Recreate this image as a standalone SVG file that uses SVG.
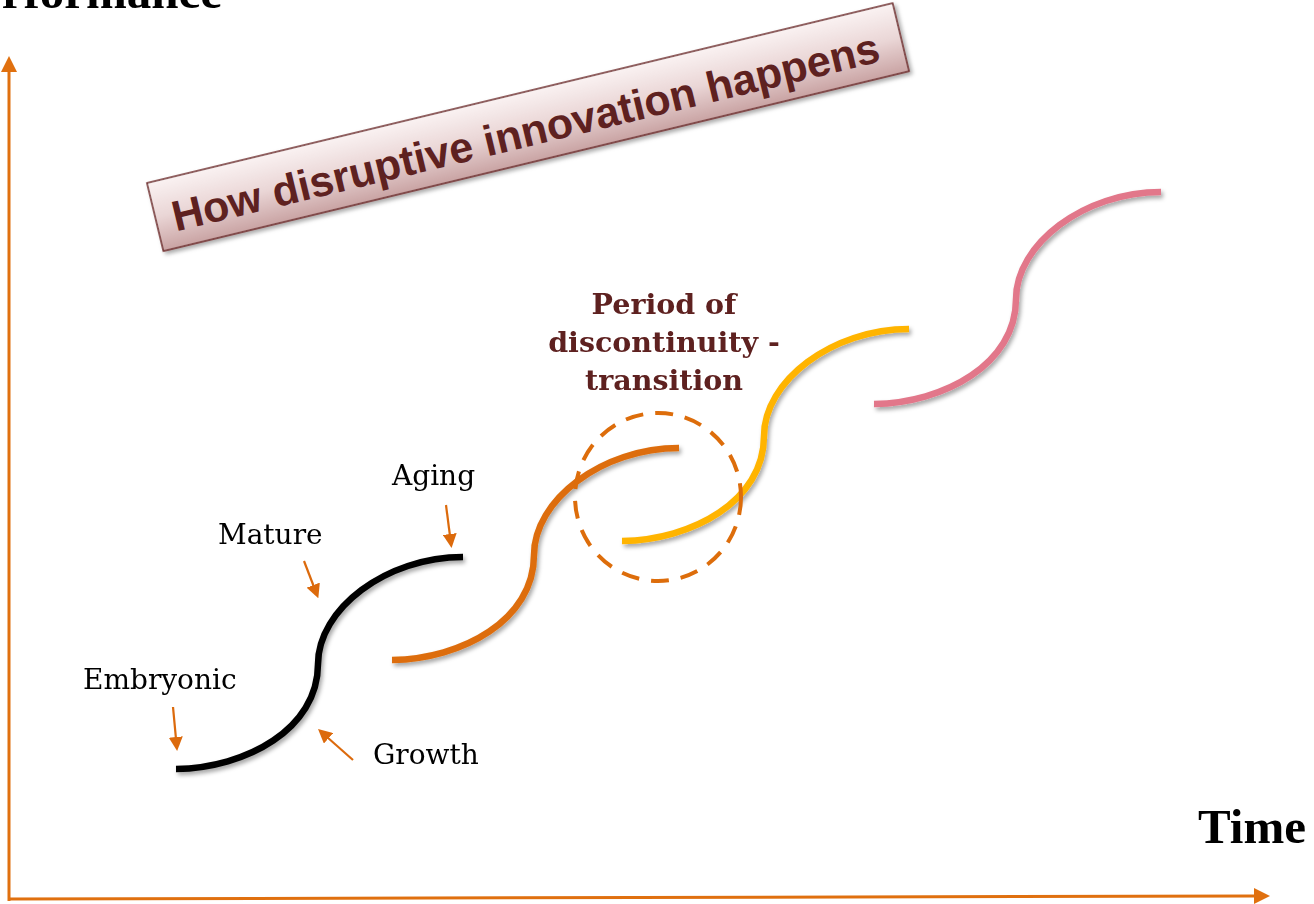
<svg xmlns="http://www.w3.org/2000/svg" width="1314" height="904" viewBox="0 0 1314 904">
<style>
.axis{stroke:#e0700f;stroke-width:3;fill:none}
.curve{fill:none;stroke-width:6.5;stroke-linecap:butt}
.ptr{stroke:#dc6a0c;stroke-width:2.2;fill:none}
.lbl{font-family:"DejaVu Serif","Liberation Serif",serif;font-size:28px;fill:#000}
.axlbl{font-family:"Liberation Serif","Times New Roman",serif;font-weight:bold;font-size:49px;fill:#000}
.period{font-family:"DejaVu Serif","Liberation Serif",serif;font-weight:bold;font-size:28.5px;fill:#5e2120;text-anchor:middle}
.title{font-family:"Liberation Sans",Arial,sans-serif;font-weight:bold;font-size:43px;fill:#5e2120;text-anchor:middle}
</style>
<defs>
<marker id="axhead" viewBox="0 0 16 16" refX="2" refY="8" markerWidth="16" markerHeight="16" markerUnits="userSpaceOnUse" orient="auto">
<path d="M0,0 L16,8 L0,16 Z" fill="#e0700f"/>
</marker>
<marker id="ptrhead" viewBox="0 0 14 14" refX="2" refY="7" markerWidth="14" markerHeight="14" markerUnits="userSpaceOnUse" orient="auto">
<path d="M0,0 L14,7 L0,14 Z" fill="#dc6a0c"/>
</marker>
<filter id="shadow" x="-10%" y="-10%" width="130%" height="130%">
<feDropShadow dx="2" dy="3" stdDeviation="2" flood-color="#000" flood-opacity="0.35"/>
</filter>
<linearGradient id="bannerGrad" x1="0" y1="0" x2="0" y2="1">
<stop offset="0" stop-color="#faf2f2"/>
<stop offset="0.5" stop-color="#ead6d6"/>
<stop offset="1" stop-color="#c9a3a3"/>
</linearGradient>
<path id="scurve" d="M0,0 C70,-1 142,-40 142,-105 C142,-160 210,-212 287,-212"/>
</defs>

<g id="axes">
<line class="axis" x1="9" y1="901" x2="9" y2="70" marker-end="url(#axhead)"/>
<line class="axis" x1="10" y1="899" x2="1256" y2="896" marker-end="url(#axhead)"/>
<text class="axlbl" x="-50" y="8">Performance</text>
<text class="axlbl" x="1198" y="843">Time</text>
</g>

<g id="banner" transform="translate(147,183) rotate(-13.56)">
<rect x="0" y="0" width="767" height="70" fill="url(#bannerGrad)" stroke="#6b2a2a" stroke-width="1.5" filter="url(#shadow)"/>
<text class="title" x="380" y="54">How disruptive innovation happens</text>
</g>

<g id="curves" filter="url(#shadow)">
<use href="#scurve" class="curve" stroke="#000000" transform="translate(176,769)"/>
<use href="#scurve" class="curve" stroke="#dd6d0b" transform="translate(392,660)"/>
<use href="#scurve" class="curve" stroke="#ffb405" transform="translate(622,541)"/>
<use href="#scurve" class="curve" stroke="#e2778a" transform="translate(874,404)"/>
</g>

<g id="transition">
<ellipse cx="658" cy="497" rx="83" ry="84" fill="none" stroke="#dd6d0b" stroke-width="4" stroke-dasharray="18 12"/>
<text class="period" x="664" y="314">Period of</text>
<text class="period" x="664" y="352">discontinuity -</text>
<text class="period" x="664" y="390">transition</text>
</g>

<g id="labels">
<text class="lbl" x="392" y="485">Aging</text>
<text class="lbl" x="218" y="544">Mature</text>
<text class="lbl" x="83" y="689">Embryonic</text>
<text class="lbl" x="373" y="764">Growth</text>
</g>

<g id="connectors">
<line class="ptr" x1="446" y1="505" x2="450" y2="536" marker-end="url(#ptrhead)"/>
<line class="ptr" x1="304" y1="561" x2="314" y2="587" marker-end="url(#ptrhead)"/>
<line class="ptr" x1="173" y1="707" x2="176" y2="739" marker-end="url(#ptrhead)"/>
<line class="ptr" x1="353" y1="760" x2="327" y2="737" marker-end="url(#ptrhead)"/>
</g>
</svg>
